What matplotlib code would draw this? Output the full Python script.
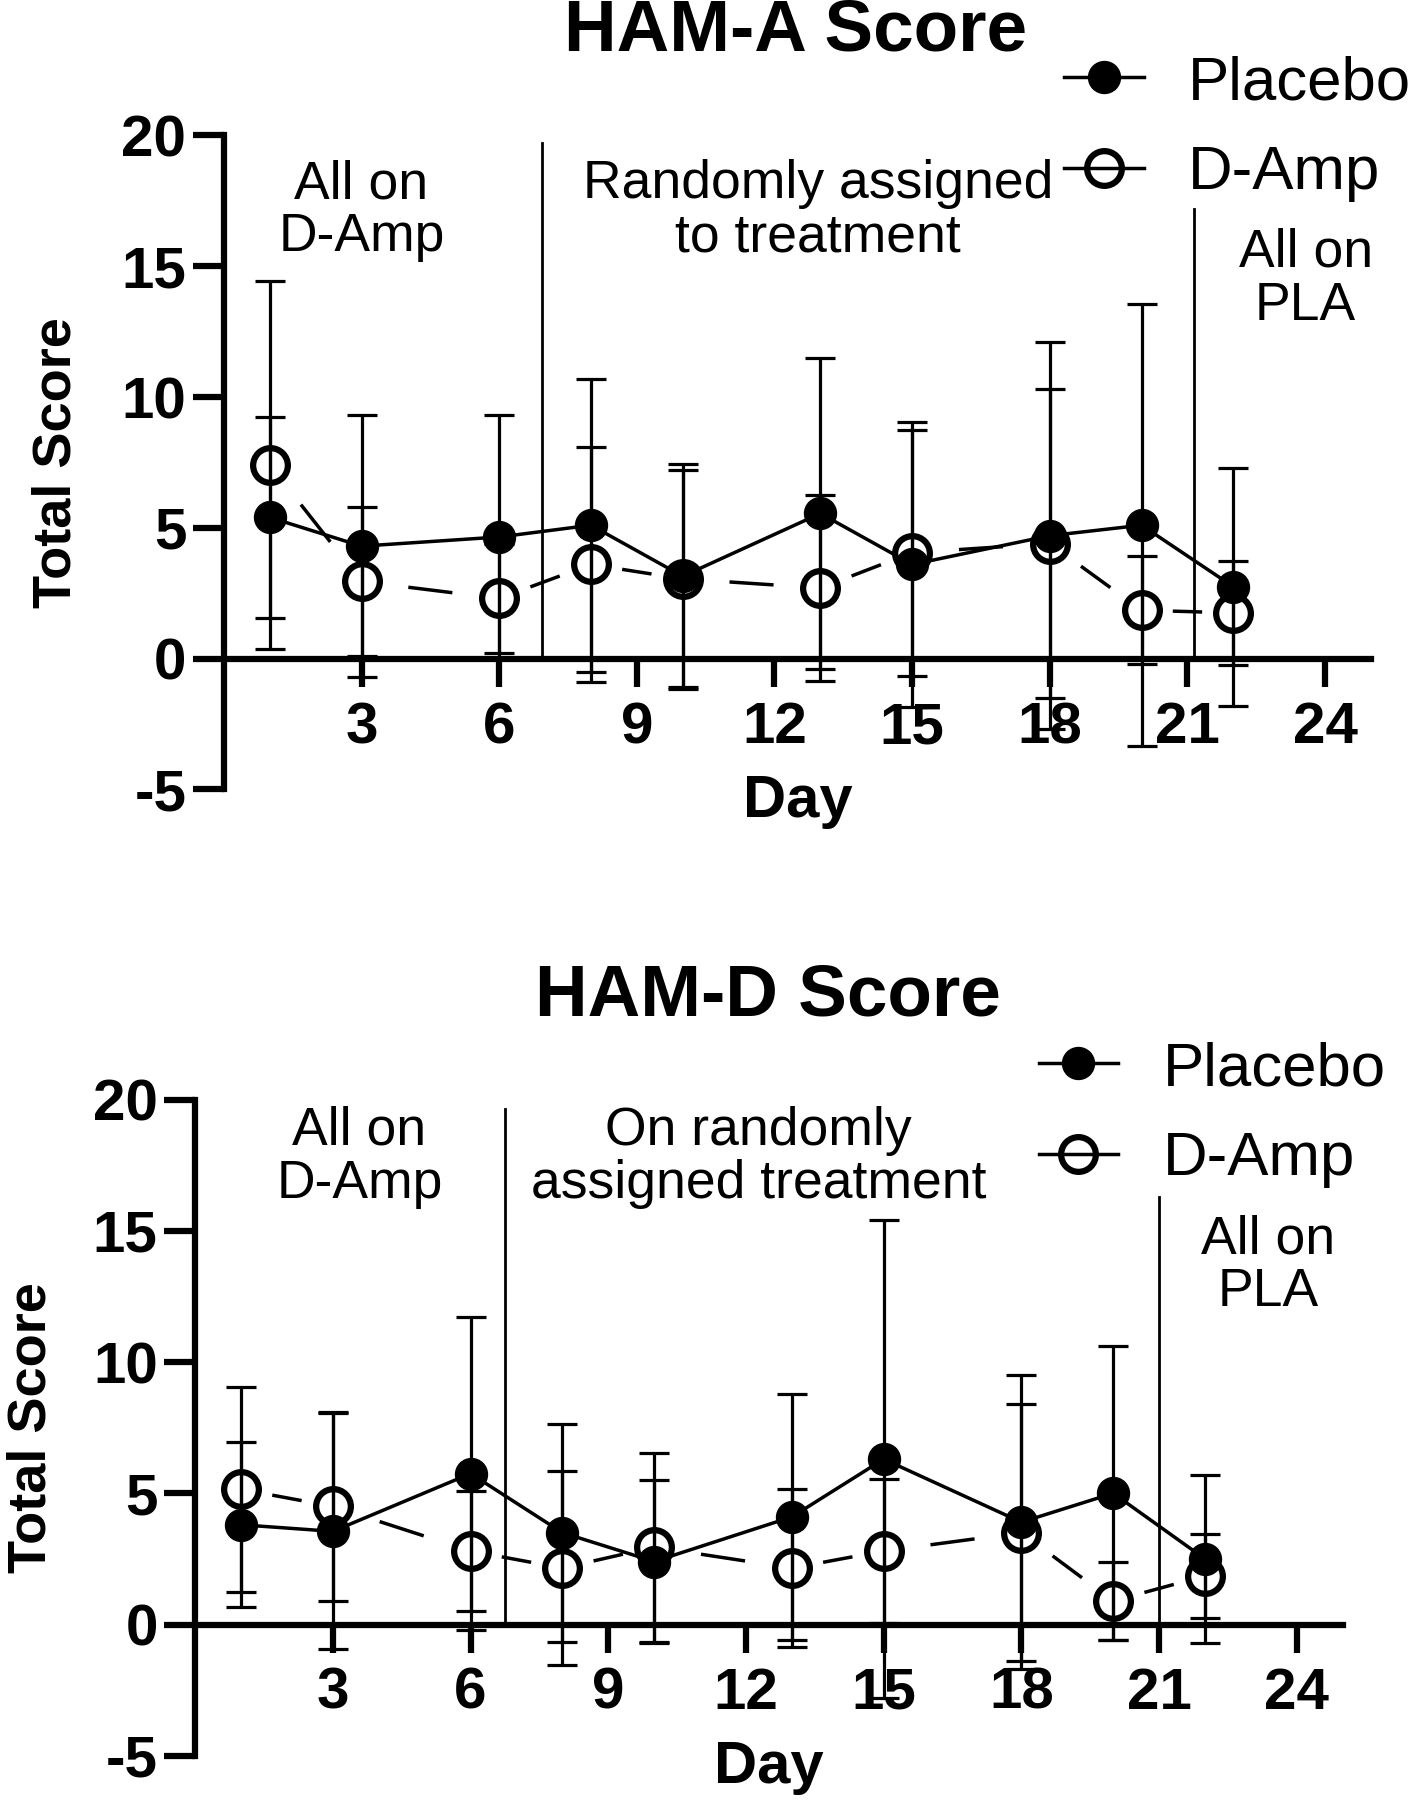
import numpy as np
import matplotlib
matplotlib.use("Agg")
import matplotlib.pyplot as plt
from matplotlib.lines import Line2D

plt.rcParams['font.family'] = ['Liberation Sans', 'DejaVu Sans']
plt.rcParams['lines.scale_dashes'] = False
plt.rcParams['axes.unicode_minus'] = False

days = [1, 3, 6, 8, 10, 13, 15, 18, 20, 22]
xticks = [3, 6, 9, 12, 15, 18, 21, 24]
yticks = [-5, 0, 5, 10, 15, 20]

# HAM-A (mean, SD)
placebo_a = [5.4, 4.3, 4.65, 5.1, 3.15, 5.55, 3.6, 4.7, 5.1, 2.75]
placebo_a_sd = [3.85, 5.0, 4.65, 5.6, 4.3, 5.95, 5.45, 7.4, 8.45, 4.55]
damp_a = [7.4, 2.95, 2.3, 3.6, 3.05, 2.7, 4.05, 4.4, 1.85, 1.75]
damp_a_sd = [7.05, 2.85, 2.1, 4.5, 4.15, 3.55, 4.7, 5.9, 2.07, 2.0]

# HAM-D (mean, SD)
placebo_d = [3.8, 3.55, 5.75, 3.5, 2.4, 4.1, 6.3, 3.9, 5.0, 2.5]
placebo_d_sd = [3.15, 4.5, 5.95, 4.15, 3.1, 4.7, 9.1, 5.6, 5.6, 3.2]
damp_d = [5.15, 4.5, 2.8, 2.15, 2.95, 2.15, 2.8, 3.5, 0.9, 1.85]
damp_d_sd = [3.9, 3.6, 2.27, 3.7, 3.6, 3.0, 2.75, 4.9, 1.5, 1.6]

# phase separators (day, top of line)
phase_a = [6.94, 21.15]
phase_a_top = [19.7, 17.2]
phase_d = [6.75, 21.0]
phase_d_top = [19.65, 16.3]

fig = plt.figure(figsize=(14.15, 18), dpi=100)

LW = 2.5
MS = 23


def dashed(ax, x, y, frac=0.32):
    # one centred dash per segment, like the original
    pts = ax.transData.transform(np.column_stack([x, y]))
    for i in range(len(x) - 1):
        seg = np.hypot(*(pts[i + 1] - pts[i])) * 72 / fig.dpi
        on = frac * seg
        off = 3 * seg
        start = (seg - on) / 2
        ax.plot(x[i:i + 2], y[i:i + 2], color='black', lw=LW,
                linestyle=(on + off - start, (on, off)),
                dash_capstyle='butt', zorder=3)


def panel(rect, title, title_y, pl, pl_sd, da, da_sd, vx, vtop, notes,
          leg_xy, ylab_x):
    ax = fig.add_axes(rect)
    ax.set_xlim(0, 25)
    ax.set_ylim(-5, 20)
    for s in ['top', 'right']:
        ax.spines[s].set_visible(False)
    ax.spines['bottom'].set_position(('data', 0))
    ax.spines['left'].set_linewidth(4.5)
    ax.spines['bottom'].set_linewidth(4.5)
    ax.set_xticks(xticks)
    ax.set_yticks(yticks)
    ax.tick_params(axis='both', width=4.5, labelsize=42)
    ax.tick_params(axis='y', length=22, pad=5)
    ax.tick_params(axis='x', length=20, pad=10.5)
    for lab in ax.get_xticklabels() + ax.get_yticklabels():
        lab.set_fontweight('bold')

    for xv, top in zip(vx, vtop):
        ax.plot([xv, xv], [0, top], color='black', lw=2.0, zorder=1)

    ax.errorbar(days, da, yerr=da_sd, fmt='none', ecolor='black',
                elinewidth=2.3, capsize=11, capthick=2.3, zorder=2)
    ax.errorbar(days, pl, yerr=pl_sd, fmt='none', ecolor='black',
                elinewidth=2.3, capsize=11, capthick=2.3, zorder=2)

    dashed(ax, days, da)
    ax.plot(days, da, linestyle='none', marker='o', ms=MS + 2,
            mfc='none', mec='black', mew=4.5, zorder=4)
    ax.plot(days, pl, color='black', lw=LW, marker='o', ms=MS,
            mfc='black', mec='black', zorder=5)

    for txt, tx, ty in notes:
        ax.text(tx, ty, txt, ha='center', va='center', fontsize=38.5,
                linespacing=1.08)

    ax.set_xlabel('Day', fontsize=43, fontweight='bold', va='baseline')
    ax.xaxis.set_label_coords(0.5, -0.042)
    ax.set_ylabel('Total Score', fontsize=39, fontweight='bold', va='center')
    ax.yaxis.set_label_coords(ylab_x, 0.5)

    cx = rect[0] + rect[2] / 2 - 0.001
    fig.text(cx, title_y, title, ha='center', va='baseline',
             fontsize=52.5, fontweight='bold')

    handles = [
        Line2D([], [], color='black', lw=LW, marker='o', ms=MS,
               mfc='black', mec='black'),
        Line2D([], [], color='black', lw=LW, marker='o', ms=MS + 2,
               mfc='none', mec='black', mew=4.5),
    ]
    ax.legend(handles, ['Placebo', 'D-Amp'], loc='upper left',
              bbox_to_anchor=leg_xy, bbox_transform=fig.transFigure,
              frameon=False, fontsize=44.5, handlelength=1.29,
              handletextpad=0.72, labelspacing=0.54, borderpad=0,
              borderaxespad=0)
    return ax


panel([0.1582, 0.5614, 0.8107, 0.3634], 'HAM-A Score', 1 - 50.5 / 1800,
      placebo_a, placebo_a_sd, damp_a, damp_a_sd, phase_a, phase_a_top,
      [('All on\nD-Amp', 3.0, 17.12),
       ('Randomly assigned\nto treatment', 12.95, 17.12),
       ('All on\nPLA', 23.575, 14.49)],
      (0.752, 0.9694), -0.1455)

panel([0.1379, 0.02456, 0.811, 0.3646], 'HAM-D Score', 1 - 1016 / 1800,
      placebo_d, placebo_d_sd, damp_d, damp_d_sd, phase_d, phase_d_top,
      [('All on\nD-Amp', 3.58, 17.8),
       ('On randomly\nassigned treatment', 12.28, 17.8),
       ('All on\nPLA', 23.375, 13.67)],
      (0.734, 0.4216), -0.143)

fig.savefig('out.png', dpi=100)
